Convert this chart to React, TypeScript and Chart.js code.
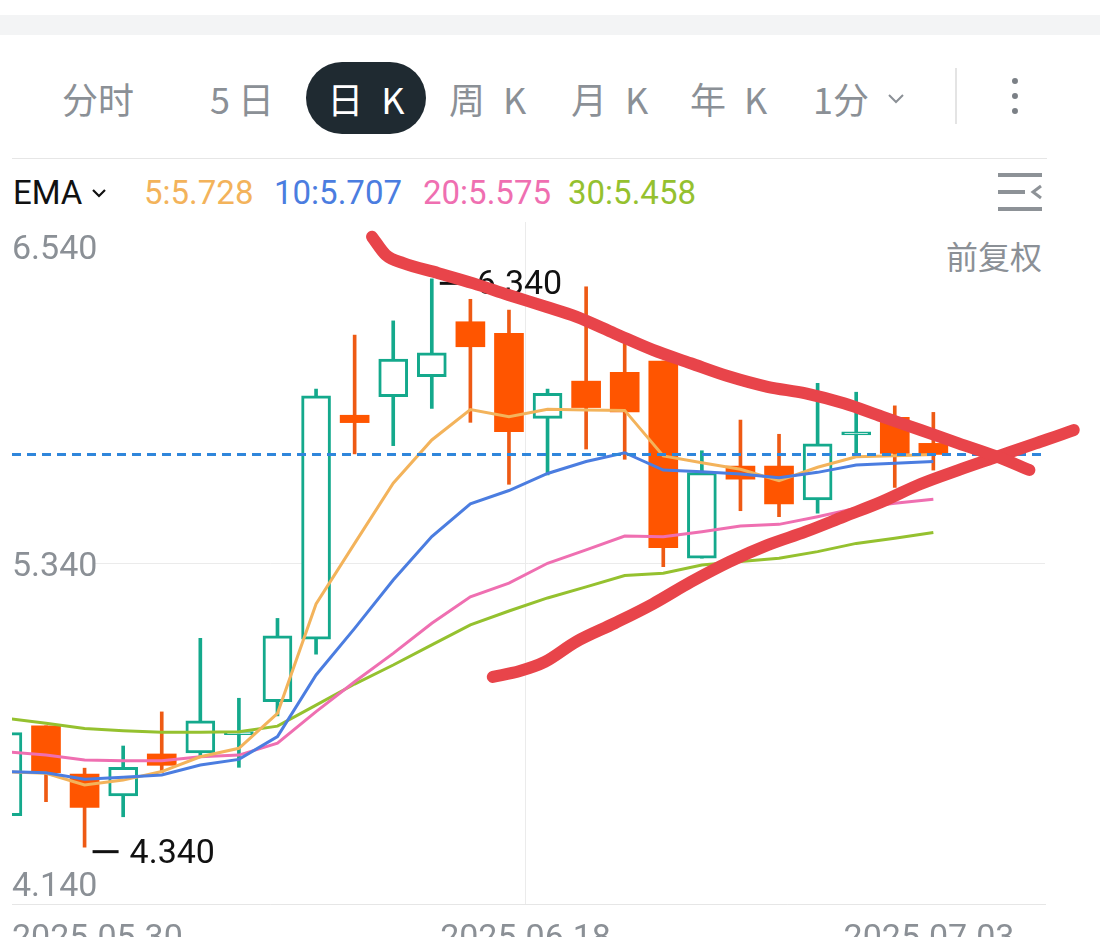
import React, { useEffect, useRef } from "react";
import { Chart, registerables } from "chart.js";

Chart.register(...registerables);

// ---- candle data (index 0 = partially visible first candle) ----
const OPEN = [4.451, 4.767, 4.597, 4.520, 4.668, 4.672, 4.736, 4.852, 5.072, 5.860, 5.925, 5.996, 6.189, 6.148, 5.849, 5.980, 6.011, 6.051, 5.357, 5.681, 5.681, 5.562, 5.791, 5.853, 5.761];
const HIGH = [4.750, 4.767, 4.618, 4.696, 4.816, 5.075, 4.864, 5.145, 5.952, 6.142, 6.192, 6.340, 6.268, 6.230, 5.952, 6.312, 6.113, 6.051, 5.735, 5.843, 5.793, 5.972, 5.941, 5.893, 5.870];
const LOW = [4.440, 4.500, 4.340, 4.447, 4.602, 4.658, 4.621, 4.802, 5.019, 5.724, 5.753, 5.884, 5.835, 5.617, 5.650, 5.741, 5.705, 5.327, 5.357, 5.524, 5.503, 5.515, 5.712, 5.606, 5.667];
const CLOSE = [4.743, 4.602, 4.480, 4.621, 4.628, 4.785, 4.747, 5.084, 5.928, 5.834, 6.058, 6.080, 6.101, 5.802, 5.937, 5.887, 5.872, 5.394, 5.658, 5.635, 5.548, 5.759, 5.802, 5.726, 5.722];

// ---- EMA series ----
const EMA5 = [4.605, 4.600, 4.559, 4.576, 4.606, 4.658, 4.688, 4.811, 5.196, 5.409, 5.621, 5.773, 5.880, 5.855, 5.881, 5.878, 5.877, 5.717, 5.693, 5.670, 5.630, 5.677, 5.714, 5.717, 5.722];
const EMA10 = [4.606, 4.602, 4.579, 4.586, 4.594, 4.629, 4.649, 4.729, 4.946, 5.110, 5.280, 5.433, 5.548, 5.595, 5.655, 5.697, 5.728, 5.667, 5.661, 5.653, 5.640, 5.659, 5.685, 5.691, 5.697];
const EMA20 = [4.675, 4.664, 4.647, 4.644, 4.644, 4.658, 4.664, 4.706, 4.817, 4.922, 5.022, 5.128, 5.221, 5.269, 5.339, 5.386, 5.435, 5.432, 5.450, 5.470, 5.476, 5.503, 5.533, 5.550, 5.564];
const EMA30 = [4.793, 4.776, 4.758, 4.750, 4.744, 4.744, 4.746, 4.766, 4.840, 4.914, 4.981, 5.052, 5.122, 5.171, 5.217, 5.256, 5.296, 5.304, 5.333, 5.345, 5.357, 5.380, 5.409, 5.427, 5.447];

const EMA_LEGEND = ["5:5.728", "10:5.707", "20:5.575", "30:5.458"];

// ---- hand-drawn trend lines (x = candle index, y = price) ----
const UPPER_X = [9.45, 9.81, 10.26, 11.17, 12.08, 12.99, 13.98, 14.74, 15.74, 16.73, 17.71, 18.71, 19.70, 20.69, 21.68, 22.67, 23.67, 24.65, 25.65, 26.49];
const UPPER_Y = [6.488, 6.424, 6.395, 6.360, 6.324, 6.283, 6.241, 6.207, 6.148, 6.090, 6.043, 5.996, 5.960, 5.937, 5.902, 5.855, 5.808, 5.761, 5.714, 5.667];
const LOWER_X = [12.58, 13.28, 13.93, 14.74, 15.74, 16.73, 17.71, 18.71, 19.70, 20.69, 21.68, 22.67, 23.67, 24.65, 25.65, 26.65, 27.64, 28.31];
const LOWER_Y = [4.939, 4.960, 4.992, 5.063, 5.128, 5.196, 5.273, 5.344, 5.403, 5.450, 5.503, 5.556, 5.618, 5.667, 5.714, 5.761, 5.808, 5.843];

// ---- axes ----
const Y_TICKS = [4.14, 5.34, 6.54];
const X_TICK_LABELS = ["2025.05.30", "2025.06.18", "2025.07.03"];
const X_TICK_VALUES = [0.1187, 13.43, 26.1];
const X_MIN = 0.1187;
const X_MAX = 26.894;
const Y_MIN = 4.14;
const Y_MAX = 6.54;

const TEAL = "#14a98c";
const RED = "#ff5500";
const WICK_RED = "#ee5a14";
const GRAY = "#8b9096";
const LABEL_FONT = "Roboto, 'Liberation Sans', sans-serif";

const TABS = [
  { t: "分时", left: 62 },
  { t: "5 日", left: 210 },
  { t: "周\u2002K", left: 449 },
  { t: "月\u2002K", left: 571 },
  { t: "年\u2002K", left: 690 },
  { t: "1分", left: 813 },
];
const LEGEND_COLORS = ["#f3b35b", "#4b7de0", "#ef6fb1", "#95c12f"];
const LEGEND_LEFT = [144, 274, 423, 568];

const labelPlugin = {
  id: "priceLabels",
  beforeDatasetsDraw(chart: any) {
    const { ctx, chartArea, scales } = chart;
    const x = scales.x;
    const y = scales.y;
    ctx.save();
    ctx.font = `34px ${LABEL_FONT}`;
    ctx.textBaseline = "middle";
    ctx.textAlign = "left";
    y.ticks.forEach((t: any) => {
      const py = y.getPixelForValue(t.value);
      const text = Number(t.value).toFixed(3);
      let cy = py + 4;
      if (t.value === Y_MAX) cy = py + 28;
      else if (t.value === Y_MIN) cy = py - 17;
      else {
        const w = ctx.measureText(text).width;
        ctx.fillStyle = "#ffffff";
        ctx.fillRect(chartArea.left, py - 2, w - 4, 4);
      }
      ctx.fillStyle = GRAY;
      ctx.fillText(text, chartArea.left, cy);
    });
    // highest high / lowest low markers
    let hi = 0;
    let lo = 0;
    HIGH.forEach((v, i) => { if (v > HIGH[hi]) hi = i; });
    LOW.forEach((v, i) => { if (v < LOW[lo]) lo = i; });
    ctx.fillStyle = "#111111";
    [[hi, HIGH[hi]], [lo, LOW[lo]]].forEach(([i, v]) => {
      const px = x.getPixelForValue(i);
      const py = y.getPixelForValue(v);
      ctx.fillRect(px + 8, py + 3, 26, 3);
      ctx.fillText(Number(v).toFixed(3), px + 45, py + 7);
    });
    ctx.restore();
  },
};

export default function App() {
  const ref = useRef<HTMLCanvasElement>(null);

  useEffect(() => {
    if (!ref.current) return;
    const idx = OPEN.map((_, i) => i);
    const up = (i: number) => CLOSE[i] >= OPEN[i];
    const line = (arr: number[], color: string) => ({
      type: "line" as const,
      data: idx.map((i) => ({ x: i, y: arr[i] })),
      borderColor: color,
      borderWidth: 3,
      pointRadius: 0,
      tension: 0,
      order: 2,
    });
    const last = CLOSE[CLOSE.length - 1];
    const chart = new Chart(ref.current, {
      type: "bar",
      data: {
        datasets: [
          {
            type: "line",
            data: UPPER_X.map((v, k) => ({ x: v, y: UPPER_Y[k] })),
            borderColor: "#e8444a",
            borderWidth: 12,
            borderCapStyle: "round",
            borderJoinStyle: "round",
            cubicInterpolationMode: "monotone",
            pointRadius: 0,
            clip: false,
            order: 0,
          } as any,
          {
            type: "line",
            data: LOWER_X.map((v, k) => ({ x: v, y: LOWER_Y[k] })),
            borderColor: "#e8444a",
            borderWidth: 12,
            borderCapStyle: "round",
            borderJoinStyle: "round",
            cubicInterpolationMode: "monotone",
            pointRadius: 0,
            clip: false,
            order: 0,
          } as any,
          {
            type: "line",
            data: [{ x: X_MIN, y: last }, { x: X_MAX, y: last }],
            borderColor: "#2f86db",
            borderWidth: 3,
            borderDash: [9, 6],
            pointRadius: 0,
            order: 1,
          } as any,
          line(EMA10, LEGEND_COLORS[1]),
          line(EMA5, LEGEND_COLORS[0]),
          line(EMA20, LEGEND_COLORS[2]),
          line(EMA30, LEGEND_COLORS[3]),
          {
            type: "bar",
            data: idx.map((i) => ({ x: i, y: [OPEN[i], CLOSE[i]] })),
            backgroundColor: (c: any) => (up(c.dataIndex) ? "#ffffff" : RED),
            borderColor: TEAL,
            borderWidth: (c: any) => (up(c.dataIndex) ? 3 : 0),
            borderSkipped: false,
            barThickness: 29,
            grouped: false,
            order: 5,
          } as any,
          {
            type: "bar",
            data: idx.map((i) => ({ x: i, y: [LOW[i], HIGH[i]] })),
            backgroundColor: (c: any) => (up(c.dataIndex) ? TEAL : WICK_RED),
            barThickness: 3,
            grouped: false,
            order: 6,
          } as any,
        ],
      },
      options: {
        animation: false,
        responsive: false,
        devicePixelRatio: 1,
        layout: { padding: { left: 12, right: 55, top: 12, bottom: 0 } },
        plugins: { legend: { display: false }, tooltip: { enabled: false } },
        scales: {
          x: {
            type: "linear",
            min: X_MIN,
            max: X_MAX,
            offset: false,
            afterBuildTicks: (s: any) => {
              s.ticks = X_TICK_VALUES.map((v) => ({ value: v }));
            },
            afterFit: (s: any) => {
              s.height = 33;
              s.paddingLeft = 0;
              s.paddingRight = 0;
            },
            ticks: {
              autoSkip: false,
              maxRotation: 0,
              minRotation: 0,
              align: "inner",
              padding: 15,
              color: GRAY,
              font: { family: LABEL_FONT, size: 34 },
              callback: (_v: any, i: number) => X_TICK_LABELS[i],
            },
            grid: {
              offset: false,
              drawTicks: false,
              color: (c: any) => (c.index === 1 ? "#ebebeb" : "rgba(0,0,0,0)"),
            },
            border: { display: true, color: "#e6e6e6" },
          } as any,
          y: {
            type: "linear",
            min: Y_MIN,
            max: Y_MAX,
            afterBuildTicks: (s: any) => {
              s.ticks = Y_TICKS.map((v) => ({ value: v }));
            },
            afterFit: (s: any) => {
              s.width = 0;
            },
            ticks: { display: false },
            grid: {
              drawTicks: false,
              color: (c: any) => (c.tick && c.tick.value === Y_MAX ? "rgba(0,0,0,0)" : "#ebebeb"),
            },
            border: { display: false },
          } as any,
        },
      },
      plugins: [labelPlugin],
    } as any);
    return () => chart.destroy();
  }, []);

  return (
    <div
      style={{
        position: "absolute",
        left: 0,
        top: 0,
        width: 1100,
        height: 937,
        background: "#ffffff",
        overflow: "hidden",
        fontFamily: LABEL_FONT,
      }}
    >
      <div style={{ position: "absolute", left: 0, top: 15, width: 1100, height: 20, background: "#f3f4f5" }} />
      {TABS.map((tab) => (
        <span
          key={tab.t}
          style={{
            position: "absolute",
            left: tab.left,
            top: 73,
            height: 50,
            lineHeight: "50px",
            fontSize: 36,
            color: GRAY,
            whiteSpace: "pre",
            fontFamily: "'Noto Sans CJK SC', sans-serif",
          }}
        >
          {tab.t}
        </span>
      ))}
      <div
        style={{
          position: "absolute",
          left: 306,
          top: 62,
          width: 120,
          height: 72,
          borderRadius: 36,
          background: "#1f2a31",
          color: "#ffffff",
          fontSize: 36,
          lineHeight: "72px",
          textAlign: "center",
          whiteSpace: "pre",
          fontFamily: "'Noto Sans CJK SC', sans-serif",
        }}
      >
        {"日\u2002K"}
      </div>
      <svg style={{ position: "absolute", left: 886, top: 92 }} width={20} height={14}>
        <polyline points="3,3 10,10 17,3" fill="none" stroke={GRAY} strokeWidth={2} />
      </svg>
      <div style={{ position: "absolute", left: 955, top: 68, width: 2, height: 56, background: "#e4e4e4" }} />
      {[81, 96, 111].map((t) => (
        <div key={t} style={{ position: "absolute", left: 1012, top: t - 3, width: 6, height: 6, borderRadius: 3, background: "#7b8086" }} />
      ))}
      <div style={{ position: "absolute", left: 12, top: 158, width: 1035, height: 1, background: "#e6e6e6" }} />

      <span style={{ position: "absolute", left: 13, top: 173, lineHeight: "40px", fontSize: 33, color: "#111111" }}>EMA</span>
      <svg style={{ position: "absolute", left: 90, top: 186 }} width={18} height={14}>
        <polyline points="3,4 9,10 15,4" fill="none" stroke="#111111" strokeWidth={2.2} />
      </svg>
      {EMA_LEGEND.map((t, i) => (
        <span
          key={t}
          style={{ position: "absolute", left: LEGEND_LEFT[i], top: 173, lineHeight: "40px", fontSize: 33, color: LEGEND_COLORS[i] }}
        >
          {t}
        </span>
      ))}
      <svg style={{ position: "absolute", left: 996, top: 170 }} width={48} height={44}>
        <rect x={2} y={3} width={44} height={4} fill="#8d9297" />
        <rect x={2} y={20} width={27} height={4} fill="#8d9297" />
        <polyline points="45,16 37,22 45,28" fill="none" stroke="#8d9297" strokeWidth={3} />
        <rect x={2} y={37} width={44} height={4} fill="#8d9297" />
      </svg>
      <span
        style={{
          position: "absolute",
          left: 946,
          top: 235,
          lineHeight: "40px",
          fontSize: 32,
          color: GRAY,
          fontFamily: "'Noto Sans CJK SC', sans-serif",
        }}
      >
        前复权
      </span>

      <canvas
        ref={ref}
        width={1100}
        height={727}
        style={{ position: "absolute", left: 0, top: 210, width: 1100, height: 727 }}
      />
    </div>
  );
}
